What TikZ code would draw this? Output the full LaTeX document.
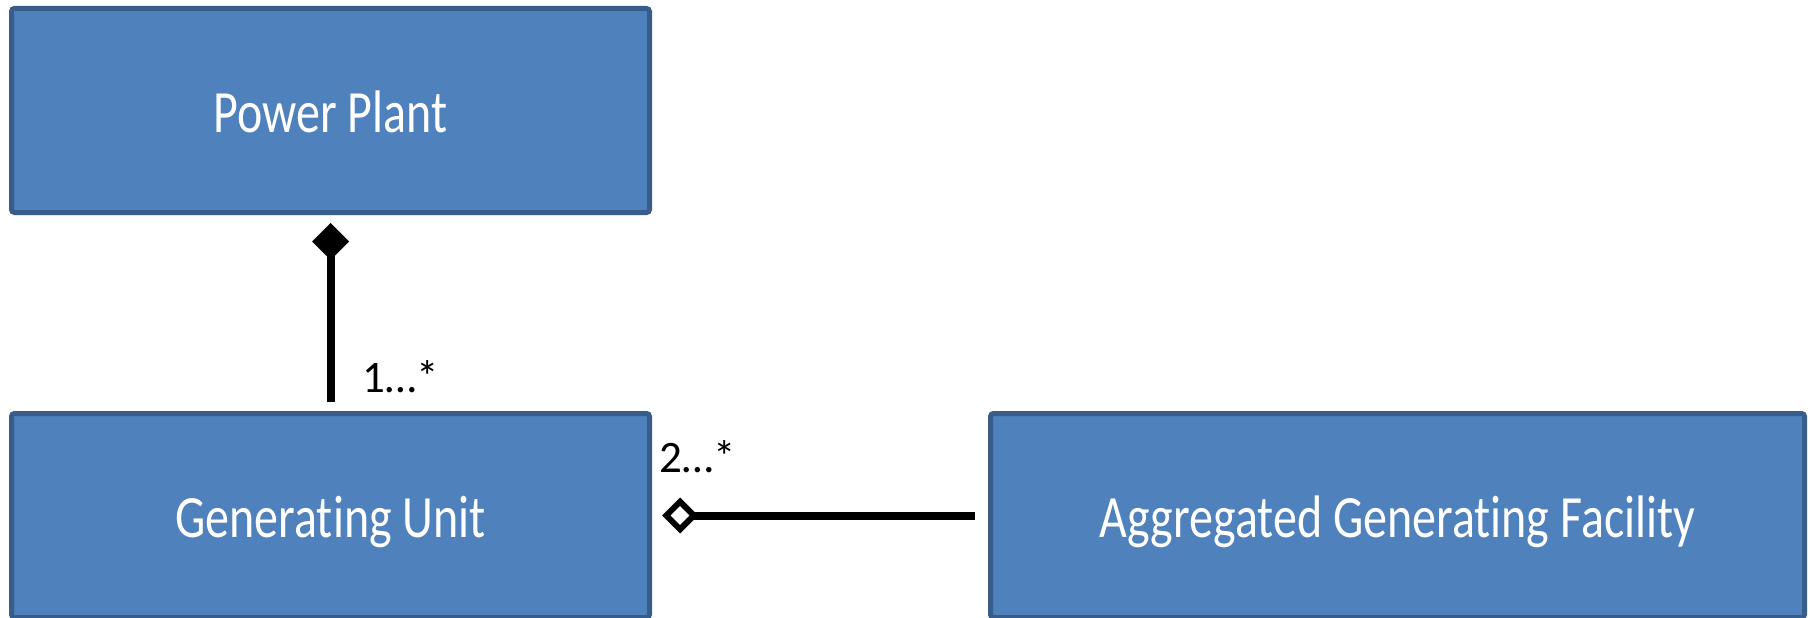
\documentclass[tikz,border=0pt]{standalone}
\usepackage{fontspec}
\setmainfont{Carlito}[Ligatures=NoCommon]
\usepackage{graphicx}
\usetikzlibrary{arrows.meta}
\definecolor{boxfill}{HTML}{4F81BD}
\definecolor{boxline}{HTML}{385D8A}
\newcommand{\narrow}[1]{\scalebox{0.8}[1]{#1}}
\tikzstyle{umlclass}=[rectangle,rounded corners=3pt,fill=boxfill,draw=boxline,line width=5pt,text=white,font=\fontsize{60}{72}\selectfont,text height=44pt,text depth=0pt,inner sep=0pt,minimum height=204pt]
\tikzstyle{mult}=[font=\fontsize{45}{54}\selectfont,inner sep=0pt]
\tikzstyle{assoc}=[line width=8pt]

\begin{document}
\begin{tikzpicture}[x=1pt,y=-1pt]
    \useasboundingbox (0,0) rectangle (1810,618);
    \node[umlclass,minimum width=638pt] (plant) at (330.5,110.5) {\narrow{Power Plant}};
    \node[umlclass,minimum width=638pt] (unit) at (330.5,515.5) {\narrow{Generating Unit}};
    \node[umlclass,minimum width=814pt] (agf) at (1397.5,515.5) {\narrow{Aggregated Generating Facility}};

    \draw[assoc,-{Diamond[length=37pt,width=37pt]},shorten <=9pt,shorten >=8pt] (unit) -- (plant);
    \draw[assoc,-{Diamond[open,fill=white,line width=6pt,length=36pt,width=36pt]},shorten <=13pt,shorten >=10pt] (agf) -- (unit);

    \node[mult,anchor=base west] (m1) at (362,392) {1…*};
    \node[mult,anchor=base west] (m2) at (659,472) {2…*};
\end{tikzpicture}
\end{document}
